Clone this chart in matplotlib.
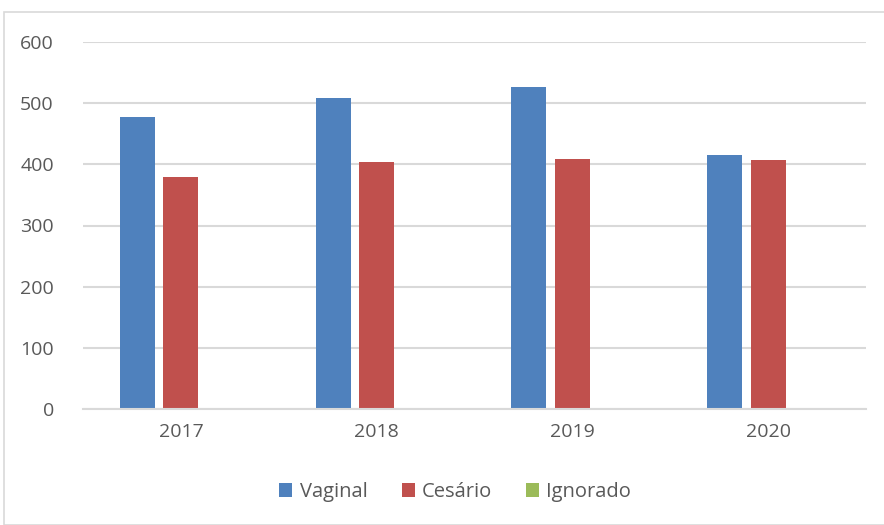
import matplotlib.pyplot as plt
import numpy as np
from matplotlib.patches import Rectangle

years = ['2017', '2018', '2019', '2020']
vaginal = [477, 508, 526, 415]
cesario = [379, 403, 408, 407]
ignorado = [2, 0, 0, 0]

series = [('Vaginal', vaginal, '#4f81bd'),
          ('Cesário', cesario, '#c0504d'),
          ('Ignorado', ignorado, '#9bbb59')]

plt.rcParams['font.family'] = ['Open Sans', 'DejaVu Sans']

fig = plt.figure(figsize=(8.84, 5.25), dpi=100)
fig.patches.append(Rectangle((4 / 884, 0), 1, 1 - 12 / 525, transform=fig.transFigure,
                             fill=False, edgecolor='#d9d9d9', linewidth=1.2))

ax = fig.add_axes([83 / 884, 1 - 409 / 525, (866 - 83) / 884, (409 - 42) / 525])

x = np.arange(len(years))
width = 0.178
step = 0.222
for i, (name, values, color) in enumerate(series):
    ax.bar(x + (i - 1) * step, values, width, color=color, label=name, zorder=2)

ax.set_xlim(-0.5, len(years) - 0.5)
ax.set_ylim(0, 600)
ax.set_yticks(range(0, 601, 100))
ax.set_xticks(x)
ax.set_xticklabels(years)
ax.yaxis.grid(True, color='#d9d9d9', linewidth=1.5, zorder=0)
ax.set_axisbelow(True)
for side in ['top', 'right', 'left']:
    ax.spines[side].set_visible(False)
ax.spines['bottom'].set_color('#d9d9d9')
ax.spines['bottom'].set_linewidth(1.5)
ax.tick_params(length=0, labelsize=14, labelcolor='#595959')
ax.tick_params(axis='y', pad=21)
ax.tick_params(axis='x', pad=10)

fig.legend(loc='center', bbox_to_anchor=(0.515, 1 - 492 / 525), ncol=3, frameon=False,
           fontsize=14.5, labelcolor='#595959', handlelength=0.65, handleheight=0.65,
           handletextpad=0.35, columnspacing=1.7)

fig.savefig('out.png', dpi=100)
